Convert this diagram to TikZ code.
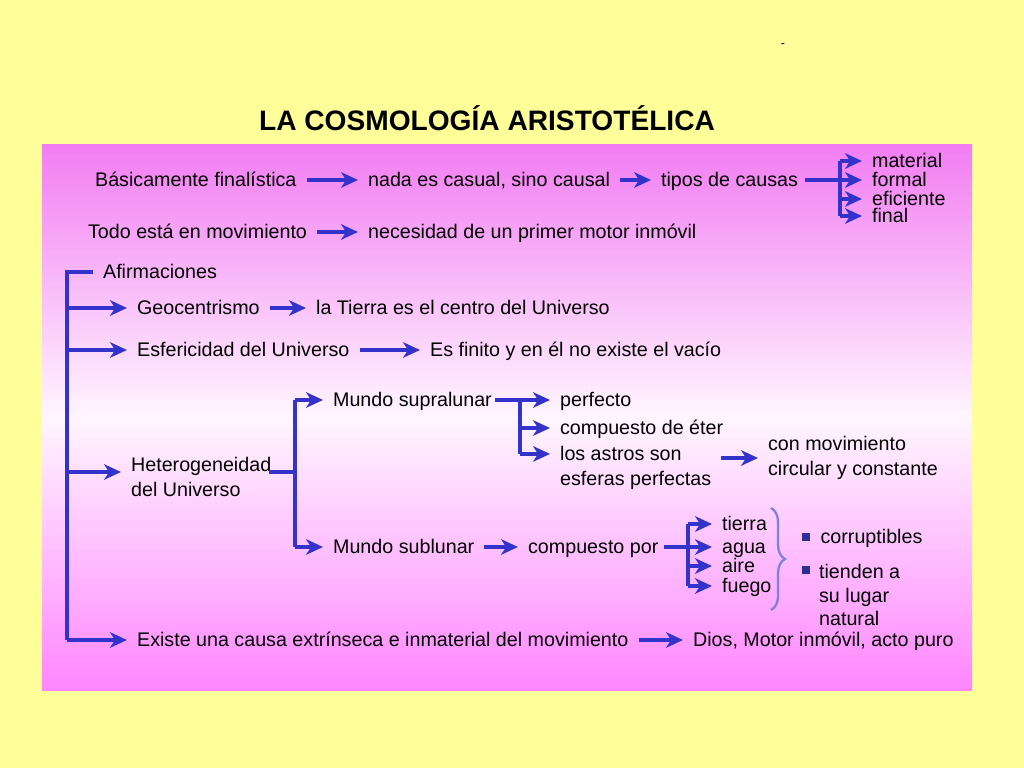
\documentclass[tikz,border=0pt]{standalone}
\usepackage{fontspec}
\setmainfont{Liberation Sans}
\usepackage{tikz}
\usetikzlibrary{arrows.meta, positioning, decorations.pathreplacing}

\definecolor{fondo}{HTML}{FFFF99}
\definecolor{rosaArriba}{HTML}{F27DF2}
\definecolor{rosaMedio}{HTML}{FFF6FF}
\definecolor{rosaAbajo}{HTML}{FF86FF}
\definecolor{flecha}{HTML}{3333CC}
\definecolor{llavecol}{HTML}{7F7FDD}
\definecolor{vineta}{HTML}{2E2E90}

\begin{document}
\begin{tikzpicture}[
    x=0.025cm, y=-0.025cm,
    >={Stealth[length=12pt, width=11pt, inset=3.5pt]},
    txtbase/.style={anchor=west, align=left, inner xsep=7pt, inner ysep=1pt, font=\fontsize{14}{17.5}\selectfont, text=black},
    txt/.style={txtbase, text height=12pt, text depth=2.2pt},
    txtm/.style={txtbase},
    titulo/.style={font=\fontsize{20}{24}\selectfont\bfseries, inner sep=2pt},
    line/.style={draw=flecha, line width=2.6pt, ->},
    bar/.style={draw=flecha, line width=2.6pt},
    llave/.style={draw=llavecol, line width=1.6pt, decorate, decoration={brace, amplitude=10pt}},
    bulletsq/.style={rectangle, fill=vineta, inner sep=0pt, minimum size=6pt}
]
    \useasboundingbox (0,0) rectangle (1024,768);

    % Fondo
    \fill[fondo] (0,0) rectangle (1024,768);
    \shade[top color=rosaArriba, bottom color=rosaAbajo, middle color=rosaMedio] (42,145) rectangle (972,690);

    \node[titulo] (titulo) at (487,118) {LA COSMOLOGÍA ARISTOTÉLICA};
    \node[font=\fontsize{9}{10}\selectfont, inner sep=0pt] (guion) at (783,46) {-};

    % Causas
    \node[txt] (basica) at (85,180) {Básicamente finalística};
    \node[txt] (casual) at (358,180) {nada es casual, sino causal};
    \node[txt] (tipos) at (651,180) {tipos de causas};
    \node[txt] (material) at (862,161) {material};
    \node[txt] (formal) at (862,180) {formal};
    \node[txt] (eficiente) at (862,199) {eficiente};
    \node[txt] (final) at (862,216) {final};
    \coordinate (causaj) at (840,180);

    % Movimiento
    \node[txt] (todo) at (78,232) {Todo está en movimiento};
    \node[txt] (necesidad) at (358,232) {necesidad de un primer motor inmóvil};

    % Afirmaciones
    \node[txt] (afirm) at (93,272) {Afirmaciones};
    \node[txt] (geo) at (127,308) {Geocentrismo};
    \node[txt] (centro) at (306,308) {la Tierra es el centro del Universo};
    \node[txt] (esfer) at (127,350) {Esfericidad del Universo};
    \node[txt] (finito) at (420,350) {Es finito y en él no existe el vacío};
    \node[txtm] (hetero) at (121,477) {Heterogeneidad\\del Universo};
    \node[txt] (existe) at (127,640) {Existe una causa extrínseca e inmaterial del movimiento};
    \node[txt] (dios) at (683,640) {Dios, Motor inmóvil, acto puro};
    \coordinate (espina) at (67,640);
    \coordinate (heteroj) at (295,472);

    % Supralunar
    \node[txt] (supra) at (323,400) {Mundo supralunar};
    \node[txt] (perfecto) at (550,400) {perfecto};
    \node[txt] (eter) at (550,428) {compuesto de éter};
    \node[txtm] (astros) at (550,468) {los astros son\\esferas perfectas};
    \node[txtm] (movcirc) at (758,458) {con movimiento\\circular y constante};
    \coordinate (supraj) at (520,400);
    \coordinate (astrosin) at ([yshift=10pt]astros.west);

    % Sublunar
    \node[txt] (sub) at (323,547) {Mundo sublunar};
    \node[txt] (compuesto) at (518,547) {compuesto por};
    \node[txt] (tierra) at (712,524) {tierra};
    \node[txt] (agua) at (712,547) {agua};
    \node[txt] (aire) at (712,566) {aire};
    \node[txt] (fuego) at (712,586) {fuego};
    \coordinate (compj) at (688,547);
    \coordinate (llaveArriba) at (771,508);
    \coordinate (llaveAbajo) at (771,610);

    \node[bulletsq] (b1) at (806,537) {};
    \node[bulletsq] (b2) at (806,570) {};
    \node[txt, right=0pt of b1] (corrupt) {corruptibles};
    \node[txtm, font=\fontsize{14}{16.8}\selectfont] (tienden) at (809,595) {tienden a\\su lugar\\natural};

    % Conectores
    \draw[line] (basica) -- (casual);
    \draw[line] (casual) -- (tipos);
    \draw[bar] ([xshift=-2pt]tipos.east) -- (causaj);
    \draw[bar] (causaj |- material) -- (causaj |- final);
    \foreach \n in {material, formal, eficiente, final}
        \draw[line] (causaj |- \n) -- (\n);
    \draw[line] (todo) -- (necesidad);

    \draw[bar] (afirm.west) -| (espina);
    \foreach \n in {geo, esfer, existe}
        \draw[line] (espina |- \n) -- (\n);
    \draw[line] (espina |- heteroj) -- (hetero.west |- heteroj);
    \draw[line] (geo) -- (centro);
    \draw[line] (esfer) -- (finito);
    \draw[line] (existe) -- (dios);

    \draw[bar] ([xshift=-9pt]hetero.east |- heteroj) -- (heteroj);
    \draw[bar] (heteroj |- supra) -- (heteroj |- sub);
    \draw[line] (heteroj |- supra) -- (supra);
    \draw[line] (heteroj |- sub) -- (sub);

    \draw[bar] ([xshift=-5pt]supra.east) -- (supraj);
    \draw[bar] (supraj) -- (supraj |- astrosin);
    \draw[line] (supraj |- perfecto) -- (perfecto);
    \draw[line] (supraj |- eter) -- (eter);
    \draw[line] (supraj |- astrosin) -- (astrosin);
    \draw[line] (astros.east |- movcirc) -- (movcirc);

    \draw[line] (sub) -- (compuesto);
    \draw[bar] ([xshift=-3pt]compuesto.east) -- (compj);
    \draw[bar] (compj |- tierra) -- (compj |- fuego);
    \foreach \n in {tierra, agua, aire, fuego}
        \draw[line] (compj |- \n) -- (\n);
    \draw[llave] (llaveArriba) -- (llaveAbajo);

\end{tikzpicture}
\end{document}
